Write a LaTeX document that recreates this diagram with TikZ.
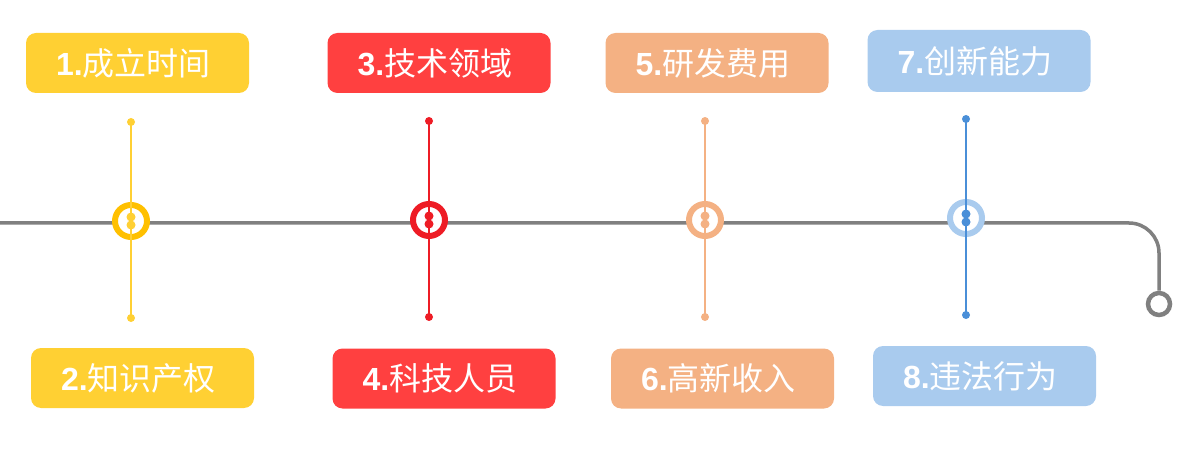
\documentclass[tikz,border=0pt]{standalone}
\usepackage{fontspec}
\setmainfont{Liberation Sans}
\newfontfamily\cjk{Noto Sans CJK SC}
\definecolor{ybox}{HTML}{FFD033}
\definecolor{yring}{HTML}{FFC000}
\definecolor{yline}{HTML}{FFD034}
\definecolor{rbox}{HTML}{FF4040}
\definecolor{rring}{HTML}{EE1C25}
\definecolor{obox}{HTML}{F4B183}
\definecolor{oring}{HTML}{F4B183}
\definecolor{bbox}{HTML}{A9CBEE}
\definecolor{bring}{HTML}{A9CBEE}
\definecolor{bline}{HTML}{4A8FD8}
\definecolor{axis}{HTML}{808080}
\begin{document}
\begin{tikzpicture}[x=1pt,y=-1pt,
  label box/.style={draw=none, fill=#1, rounded corners=10pt, minimum width=223pt, minimum height=60pt, text=white, font=\fontsize{32}{35}\selectfont, inner sep=0pt},
  ring/.style={circle, draw=#1, line width=6pt, fill=white, minimum size=32pt, inner sep=0pt},
  stem/.style={draw=#1, line width=1.5pt},
  enddot/.style={circle, fill=#1, minimum size=8pt, inner sep=0pt},
  innerdot/.style={circle, fill=#1, minimum size=9pt, inner sep=0pt},
  axisline/.style={draw=axis, line width=3.5pt}
]
\useasboundingbox (0,0) rectangle (1192,473);

% main line
\coordinate (start) at (0,223);
\coordinate (bend) at (1159,223);
\node[circle, draw=axis, line width=4.5pt, fill=white, minimum size=22pt, inner sep=0pt] (endc) at (1159,304) {};
\draw[axisline, rounded corners=30pt] (start) -- (bend) -- (endc.north);

% label boxes
\newcommand{\lbl}[2]{\textbf{#1.}{\cjk #2}\hspace*{8pt}}
\node[label box=ybox] (b1) at (137.5,63) {\lbl{1}{成立时间}};
\node[label box=ybox] (b2) at (142.5,378) {\lbl{2}{知识产权}};
\node[label box=rbox] (b3) at (439,63) {\lbl{3}{技术领域}};
\node[label box=rbox] (b4) at (444,378.5) {\lbl{4}{科技人员}};
\node[label box=obox] (b5) at (717,63) {\lbl{5}{研发费用}};
\node[label box=obox] (b6) at (722.5,378.5) {\lbl{6}{高新收入}};
\node[label box=bbox, minimum height=62pt] (b7) at (979,61) {\lbl{7}{创新能力}};
\node[label box=bbox] (b8) at (984.5,376) {\lbl{8}{违法行为}};

% markers
\foreach \n/\x/\y/\ring/\ln in {1/131/221/yring/yline, 2/429/220/rring/rring, 3/705/220/oring/oring, 4/966/218/bring/bline}{
  \coordinate (t\n) at (\x,{\y-99});
  \coordinate (u\n) at (\x,{\y+97});
  \node[ring=\ring] (c\n) at (\x,\y) {};
  \draw[stem=\ln] (t\n) -- (u\n);
  \node[enddot=\ln] at (t\n) {};
  \node[enddot=\ln] at (u\n) {};
  \node[innerdot=\ln] at (\x,{\y-4}) {};
  \node[innerdot=\ln] at (\x,{\y+4}) {};
}
\end{tikzpicture}
\end{document}
